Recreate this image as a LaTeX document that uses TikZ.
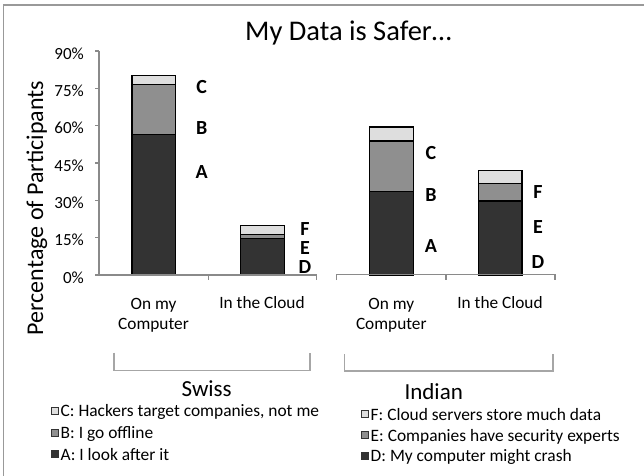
\documentclass[tikz,border=0pt]{standalone}
\usepackage{fontspec}
\setmainfont{Carlito}
\definecolor{cA}{HTML}{333333}
\definecolor{cB}{HTML}{8F8F8F}
\definecolor{cC}{HTML}{DEDEDE}
\definecolor{axisc}{HTML}{8A8A8A}
\definecolor{brc}{HTML}{A6A6A6}
\definecolor{framec}{HTML}{999999}
\begin{document}
\begin{tikzpicture}[x=1pt,y=-1pt,
  seg/.style={draw=black,line width=1.3pt},
  segA/.style={seg,fill=cA},
  segB/.style={seg,fill=cB},
  segC/.style={seg,fill=cC},
  axisline/.style={draw=axisc,line width=1.1pt},
  bracketline/.style={draw=brc,line width=1.5pt},
  ticklab/.style={anchor=east,inner sep=0pt,font=\fontsize{17}{20}\selectfont},
  letlab/.style={anchor=base,inner sep=0pt,font=\fontsize{20}{24}\selectfont\bfseries},
  catlab/.style={anchor=base,inner sep=0pt,font=\fontsize{17.3}{20}\selectfont},
  grouplab/.style={anchor=base,inner sep=0pt,font=\fontsize{23}{27}\selectfont},
  legbox/.style={draw=black!80,line width=0.8pt,minimum size=7pt,inner sep=0pt},
  legtext/.style={anchor=base west,inner sep=0pt,font=\fontsize{17.4}{20}\selectfont}]
\useasboundingbox (0,0) rectangle (644,475);
% frame
\draw[framec,line width=1.5pt] (3.5,480) -- (3.5,5) -- (650,5);
% title
\node[anchor=base west,inner sep=0pt,font=\fontsize{28.5}{32}\selectfont] (title) at (245,40.7) {My Data is Safer…};
% y label
\node[rotate=90,inner sep=0pt,font=\fontsize{24}{28}\selectfont] (ylab) at (37,208) {Percentage of Participants};
% chart scope: y in percent
\begin{scope}[shift={(0,275)},y=2.4889pt]
  % y axis
  \draw[axisline] (99,0) -- (99,90);
  \foreach \v in {0,15,...,90} {
    \draw[axisline] (95,\v) -- (99,\v);
    \node[ticklab] (t\v) at (84,\v) [yshift=-2.5pt] {\v\%};
  }
  % swiss bars
  \draw[segA] (132,0) rectangle (175.7,56.5);
  \draw[segB] (132,56.5) rectangle (175.7,76.5);
  \draw[segC] (132,76.5) rectangle (175.7,80.2);
  \draw[segA] (240.7,0) rectangle (284.3,14.7);
  \draw[segB] (240.7,14.7) rectangle (284.3,16.3);
  \draw[segC] (240.7,16.3) rectangle (284.3,20);
  % indian bars
  \draw[segA] (369.3,0) rectangle (413.7,33.6);
  \draw[segB] (369.3,33.6) rectangle (413.7,53.8);
  \draw[segC] (369.3,53.8) rectangle (413.7,59.5);
  \draw[segA] (478.7,0) rectangle (522,29.7);
  \draw[segB] (478.7,29.7) rectangle (522,36.8);
  \draw[segC] (478.7,36.8) rectangle (522,41.9);
\end{scope}
% x axes
\draw[axisline] (99,275) -- (316.7,275);
\draw[axisline] (208.3,275) -- (208.3,280);
\draw[axisline] (316.7,275) -- (316.7,280);
\draw[axisline] (336.7,280) -- (336.7,274.5) -- (555,274.5) -- (555,280);
\draw[axisline] (446,274.5) -- (446,280);
% letter labels
\node[letlab] (sC) at (201.7,93.2) {C};
\node[letlab] (sB) at (201.7,134.5) {B};
\node[letlab] (sA) at (201.7,178.5) {A};
\node[letlab] (sF) at (305,235.5) {F};
\node[letlab] (sE) at (305,254.5) {E};
\node[letlab] (sD) at (305,273.2) {D};
\node[letlab] (iC) at (431,159.2) {C};
\node[letlab] (iB) at (431,201.5) {B};
\node[letlab] (iA) at (431,252.5) {A};
\node[letlab] (iF) at (538,198.2) {F};
\node[letlab] (iE) at (538,233.2) {E};
\node[letlab] (iD) at (538,268.2) {D};
% category labels
\node[catlab] (sc1) at (153.5,309.2) {On my};
\node[catlab] (sc2) at (153.5,329) {Computer};
\node[catlab] (sc3) at (262,308.5) {In the Cloud};
\node[catlab] (ic1) at (391.3,309.2) {On my};
\node[catlab] (ic2) at (391.3,329) {Computer};
\node[catlab] (ic3) at (500,308.5) {In the Cloud};
% brackets
\draw[bracketline] (114,352.7) -- (114,370.7) -- (310,370.7) -- (310,352.7);
\draw[bracketline] (344.7,354) -- (344.7,371) -- (553,371) -- (553,354);
\node[grouplab] (swiss) at (206.7,396.7) {Swiss};
\node[grouplab] (indian) at (433.7,399) {Indian};
% legends
\node[legbox,fill=cC] (lbC) at (54.7,411) {};
\node[legbox,fill=cB] (lbB) at (54.7,432.6) {};
\node[legbox,fill=cA] (lbA) at (54.7,454.3) {};
\node[legtext] (ltC) at (60.5,416.7) {C: Hackers target companies, not me};
\node[legtext] (ltB) at (60.5,438.3) {B: I go offline};
\node[legtext] (ltA) at (60.5,460) {A: I look after it};
\node[legbox,fill=cC] (lbF) at (365.3,414.3) {};
\node[legbox,fill=cB] (lbE) at (365.3,435.3) {};
\node[legbox,fill=cA] (lbD) at (365.3,456) {};
\node[legtext] (ltF) at (370.5,420) {F: Cloud servers store much data};
\node[legtext] (ltE) at (370.5,441) {E: Companies have security experts};
\node[legtext] (ltD) at (370.5,461.7) {D: My computer might crash};
\end{tikzpicture}
\end{document}
